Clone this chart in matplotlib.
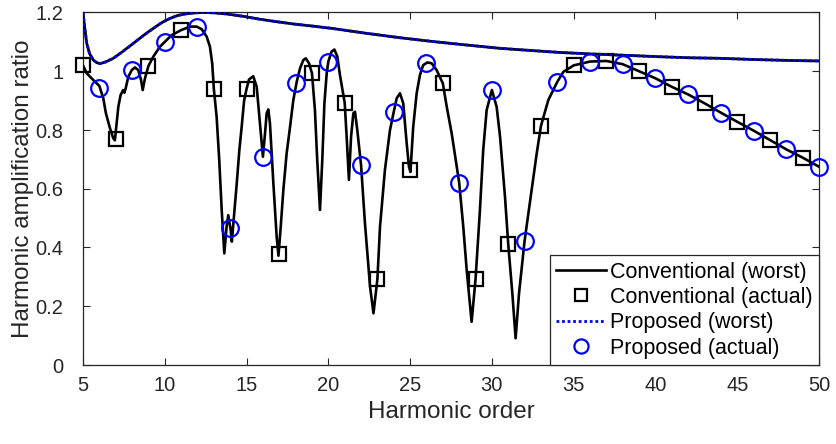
import matplotlib
matplotlib.use("Agg")
import matplotlib.pyplot as plt

plt.rcParams['font.family'] = ['Liberation Sans', 'DejaVu Sans']

# Conventional filter, worst-case amplification envelope (harmonic order, ratio)
conv_worst_h = [5.0, 5.23, 5.63, 6.0, 6.24, 6.4, 6.65, 6.85, 6.95, 7.06, 7.16, 7.3, 7.45, 7.53,
                7.61, 7.77, 7.98, 8.18, 8.38, 8.55, 8.65, 8.79, 9.0, 9.3, 9.71, 10.0, 10.42,
                11.0, 11.54, 11.95, 12.26, 12.56, 12.76, 12.9, 13.0, 13.17, 13.33, 13.48,
                13.64, 13.78, 13.88, 14.03, 14.1, 14.23, 14.4, 14.56, 14.7, 14.85, 15.0,
                15.15, 15.41, 15.62, 15.78, 16.0, 16.13, 16.23, 16.33, 16.43, 16.64, 16.84,
                16.95, 17.09, 17.25, 17.45, 17.66, 17.86, 18.07, 18.27, 18.47, 18.62, 18.82,
                19.0, 19.18, 19.32, 19.49, 19.63, 19.76, 19.9, 20.0, 20.2, 20.37, 20.55,
                20.71, 21.0, 21.12, 21.26, 21.39, 21.53, 21.63, 21.77, 22.0, 22.24, 22.55,
                22.76, 23.0, 23.16, 23.46, 23.77, 24.0, 24.18, 24.38, 24.58, 24.79, 24.93,
                25.02, 25.19, 25.4, 25.6, 25.8, 26.05, 26.32, 26.62, 27.0, 27.24, 27.54,
                28.0, 28.25, 28.46, 28.76, 29.0, 29.27, 29.47, 29.68, 30.0, 30.29, 30.5,
                30.8, 31.0, 31.25, 31.45, 31.66, 32.0, 32.43, 32.74, 33.0, 33.45, 34.0,
                34.37, 35.0, 36.0, 37.0, 38.0, 39.0, 40.0, 41.0, 42.0, 43.0, 44.0, 45.0,
                46.0, 47.0, 48.0, 49.0, 50.0]
conv_worst_r = [1.02, 0.993, 0.97, 0.95, 0.908, 0.857, 0.806, 0.772, 0.765, 0.823, 0.879,
                0.919, 0.936, 0.927, 0.942, 0.981, 1.004, 1.013, 1.004, 0.97, 0.936, 0.976,
                1.018, 1.05, 1.084, 1.1, 1.123, 1.14, 1.152, 1.152, 1.143, 1.118, 1.084,
                1.027, 0.94, 0.845, 0.698, 0.528, 0.38, 0.471, 0.51, 0.46, 0.42, 0.505,
                0.618, 0.732, 0.81, 0.9, 0.94, 0.972, 0.983, 0.947, 0.845, 0.709, 0.789,
                0.857, 0.87, 0.823, 0.618, 0.437, 0.372, 0.471, 0.596, 0.72, 0.811, 0.902,
                0.965, 1.01, 1.038, 1.044, 1.027, 0.993, 0.868, 0.698, 0.528, 0.698, 0.891,
                0.993, 1.033, 1.067, 1.074, 1.05, 0.987, 0.893, 0.777, 0.63, 0.777, 0.857,
                0.862, 0.8, 0.681, 0.482, 0.267, 0.176, 0.292, 0.471, 0.664, 0.8, 0.862,
                0.908, 0.925, 0.891, 0.755, 0.675, 0.657, 0.811, 0.925, 0.987, 1.021, 1.03,
                1.027, 1.004, 0.959, 0.879, 0.789, 0.621, 0.471, 0.323, 0.147, 0.292, 0.528,
                0.732, 0.868, 0.936, 0.879, 0.777, 0.573, 0.411, 0.244, 0.091, 0.244, 0.423,
                0.596, 0.72, 0.814, 0.902, 0.964, 0.998, 1.02, 1.033, 1.035, 1.024, 1.0,
                0.976, 0.947, 0.921, 0.891, 0.859, 0.828, 0.798, 0.766, 0.734, 0.706, 0.675]

# Conventional filter, measured ratios at odd harmonics
conv_actual_h = [5, 7, 9, 11, 13, 15, 17, 19, 21, 23, 25, 27, 29, 31, 33, 35, 37, 39, 41, 43,
                 45, 47, 49]
conv_actual_r = [1.02, 0.768, 1.018, 1.14, 0.94, 0.94, 0.378, 0.993, 0.893, 0.292, 0.664,
                 0.959, 0.292, 0.411, 0.814, 1.02, 1.035, 1.0, 0.947, 0.891, 0.828, 0.766,
                 0.706]

# Proposed filter, worst-case amplification envelope
prop_worst_h = [5.0, 5.1, 5.23, 5.4, 5.63, 5.85, 6.04, 6.4, 6.85, 7.4, 8.08, 8.7, 9.3, 9.8,
                10.32, 10.8, 11.34, 11.9, 12.4, 13.0, 13.78, 14.8, 15.82, 16.8, 17.86, 19.0,
                20.2, 22.35, 24.4, 26.42, 28.5, 30.5, 32.3, 34.16, 36.0, 37.83, 40.0, 42.0,
                43.95, 46.0, 48.0, 50.0]
prop_worst_r = [1.2, 1.15, 1.095, 1.06, 1.038, 1.029, 1.026, 1.032, 1.044, 1.066, 1.095,
                1.122, 1.146, 1.165, 1.18, 1.19, 1.196, 1.199, 1.2, 1.199, 1.195, 1.187,
                1.177, 1.169, 1.161, 1.154, 1.146, 1.129, 1.114, 1.101, 1.089, 1.078, 1.071,
                1.064, 1.059, 1.055, 1.05, 1.046, 1.044, 1.04, 1.037, 1.035]

# Proposed filter, measured ratios at even harmonics
prop_actual_h = [6, 8, 10, 12, 14, 16, 18, 20, 22, 24, 26, 28, 30, 32, 34, 36, 38, 40, 42, 44,
                 46, 48, 50]
prop_actual_r = [0.944, 1.004, 1.1, 1.149, 0.465, 0.709, 0.961, 1.033, 0.681, 0.862, 1.027,
                 0.621, 0.936, 0.423, 0.964, 1.033, 1.024, 0.976, 0.921, 0.859, 0.798, 0.734,
                 0.675]

x_ticks = [5, 10, 15, 20, 25, 30, 35, 40, 45, 50]
y_ticks = [0, 0.2, 0.4, 0.6, 0.8, 1.0, 1.2]
y_tick_labels = ['0', '0.2', '0.4', '0.6', '0.8', '1', '1.2']

fig = plt.figure(figsize=(8.36, 4.44), dpi=100)
ax = fig.add_axes([83 / 836, 79 / 444, 736 / 836, 352.5 / 444])

ax.plot(conv_worst_h, conv_worst_r, color='black', lw=1.9, zorder=3,
        label='Conventional (worst)')
ax.plot(conv_actual_h, conv_actual_r, ls='none', marker='s', ms=10, mfc='none',
        mec='black', mew=1.6, zorder=4, clip_on=False, label='Conventional (actual)')
ax.plot(prop_worst_h, prop_worst_r, color='black', lw=2.0, zorder=5)
ax.plot(prop_worst_h, prop_worst_r, color='#0000ff', lw=2.0, ls=(0, (1, 1)), zorder=6,
        label='Proposed (worst)')
ax.plot(prop_actual_h, prop_actual_r, ls='none', marker='o', ms=12, mfc='none',
        mec='#0000ff', mew=1.6, zorder=7, clip_on=False, label='Proposed (actual)')

ax.set_xlim(5, 50)
ax.set_ylim(0, 1.2)
ax.set_xticks(x_ticks)
ax.set_yticks(y_ticks)
ax.set_yticklabels(y_tick_labels)
ax.tick_params(direction='in', top=True, right=True, length=5, width=0.8,
               labelsize=14.5, colors='#262626')
ax.tick_params(axis='y', pad=14)
ax.tick_params(axis='x', pad=8)
for s in ax.spines.values():
    s.set_color('#262626')
    s.set_linewidth(0.9)

ax.set_xlabel('Harmonic order', fontsize=17.5, color='#262626', labelpad=4)
ax.set_ylabel('Harmonic amplification ratio', fontsize=17.5, color='#262626', labelpad=1)

leg = ax.legend(loc='lower right', fontsize=15.5, frameon=True, fancybox=False,
                edgecolor='#262626', framealpha=1, borderaxespad=0, handlelength=2.3,
                handletextpad=0.2, borderpad=0.3, labelspacing=0.2, markerscale=0.85)
leg.get_frame().set_linewidth(0.9)
leg.set_zorder(10)

fig.savefig('out.png', dpi=100)
